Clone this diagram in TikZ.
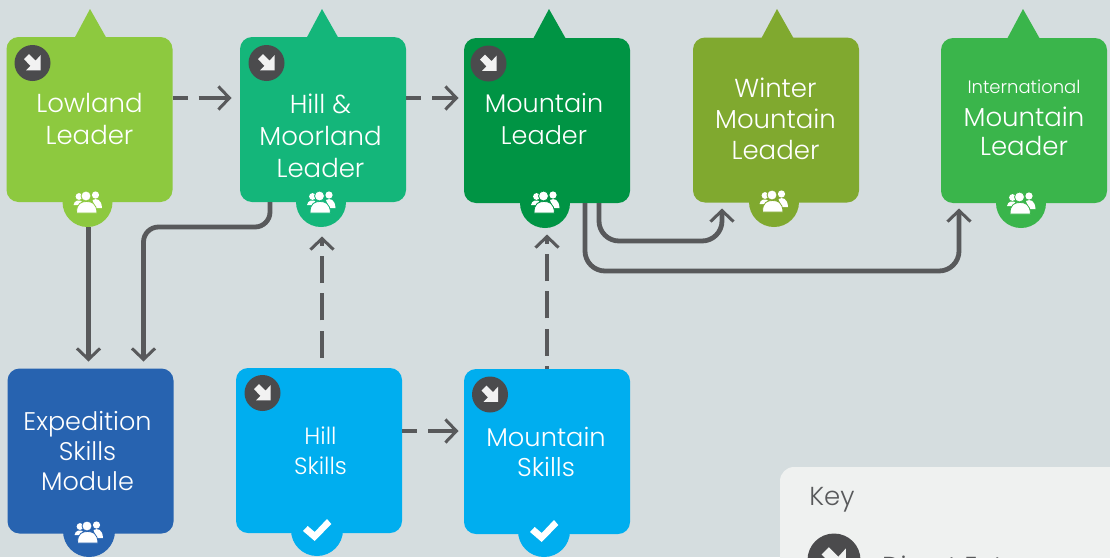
\documentclass[tikz,border=0pt]{standalone}
\usepackage{fontspec}
\setmainfont{Poppins Light}
\usetikzlibrary{arrows.meta,positioning,calc}
\definecolor{bgc}{HTML}{D5DDDF}
\definecolor{lowc}{HTML}{8DC93F}
\definecolor{hillc}{HTML}{14B67A}
\definecolor{mtnc}{HTML}{009444}
\definecolor{winc}{HTML}{80A92F}
\definecolor{intc}{HTML}{3AB54B}
\definecolor{expc}{HTML}{2763B0}
\definecolor{skic}{HTML}{00AEEF}
\definecolor{badc}{HTML}{4B4B4D}
\definecolor{linc}{HTML}{58595B}
\definecolor{keyc}{HTML}{EFF1F0}
\tikzset{
  x=1pt,y=-1pt,
  card/.style={rounded corners=12pt,minimum width=166pt,minimum height=165pt,inner sep=0pt,outer sep=0pt},
  dot/.style={circle,minimum size=50pt,inner sep=0pt,outer sep=0pt},
  badge/.style={circle,fill=badc,minimum size=36pt,inner sep=0pt,outer sep=0pt},
  label/.style={text=white,align=center,inner sep=0pt,font=\fontsize{26}{32}\selectfont},
  link/.style={draw=linc,line width=4.8pt,rounded corners=20pt,-{Straight Barb[length=11pt,width=23pt,line width=3pt]},shorten >=0.5pt},
  dlink/.style={link,line width=4.6pt,dash pattern=on 15pt off 11pt on 60pt off 0pt},
  vlink/.style={link,line width=4.6pt,dash pattern=on 27pt off 10.3pt},
  pics/entry/.style={code={
    \fill[#1] (8.2,7.3)--(-6.5,7.3)--(-2,2.8)--(-8.5,-3.8)--(-3.5,-8.8)--(3,-2.3)--(8.2,-8)--cycle;}},
  pics/people/.style={code={
    \fill[white] (-8.5,-5.5) circle (3.4);
    \fill[white] (8,-7) circle (3.6);
    \fill[white] (-14,3) .. controls (-13,-2) and (-9,-2) .. (-6,-1) -- (-6,3) -- cycle;
    \fill[white] (14.5,6) .. controls (14,-3) and (9,-4) .. (5,-2) -- (8,6) -- cycle;
    \fill[white,draw=#1,line width=0.8pt] (-1.5,-6) circle (5);
    \fill[white,draw=#1,line width=0.8pt] (-11,11) .. controls (-11,1) and (-6,-0.5) .. (-1,-0.5) .. controls (4,-0.5) and (9,1) .. (9.5,11) -- cycle;
  }},
  pics/tick/.style={code={
    \fill[white] (-14,1)--(-9.3,-4)--(-2.3,2)--(10,-11)--(14.3,-6)--(-2.3,11)--cycle;}},
}
\begin{document}
\begin{tikzpicture}
\useasboundingbox (0,0) rectangle (1110,557);
\clip (0,0) rectangle (1110,557);
\fill[bgc] (0,0) rectangle (1110,557);

% key
\fill[keyc,rounded corners=14pt] (780,467) rectangle (1140,640);
\node[text=linc,inner sep=0pt,font=\fontsize{26}{30}\selectfont] (keytitle) at (832,500) {Key};
\node[badge,minimum size=53pt] (keybadge) at (834,560) {};
\pic[scale=1.45] at (834,560) {entry={keyc}};
\node[text=linc,anchor=west,inner sep=0pt,font=\fontsize{26}{30}\selectfont] (keytext) at (882,569) {Direct Entry};

% triangles
\foreach \ax/\bl/\col in {90/74/lowc,322/306/hillc,549/533/mtnc,777/761/winc,1023/1007/intc}
  \fill[\col] (\ax,9)--(\bl+33,39)--(\bl,39)--cycle;

% circles under the cards
\node[dot,fill=lowc] (lowdot) at (87.5,202) {};
\node[dot,fill=hillc] (hilldot) at (321,202) {};
\node[dot,fill=mtnc] (mtndot) at (545,203) {};
\node[dot,fill=winc] (windot) at (774,202) {};
\node[dot,fill=intc] (intdot) at (1021,203) {};
\node[dot,fill=expc,minimum size=52pt] (expdot) at (89,531) {};
\node[dot,fill=skic,minimum size=52pt] (hsdot) at (317,530) {};
\node[dot,fill=skic,minimum size=52pt] (msdot) at (544,531) {};

% cards
\node[card,fill=lowc] (low) at (89.5,119.5) {};
\node[card,fill=hillc] (hill) at (323,119.5) {};
\node[card,fill=mtnc] (mtn) at (547,120.5) {};
\node[card,fill=winc] (win) at (776,120) {};
\node[card,fill=intc] (int) at (1024,120.5) {};
\node[card,fill=expc] (exp) at (90.5,451) {};
\node[card,fill=skic] (hs) at (319,450.5) {};
\node[card,fill=skic] (ms) at (547,451.5) {};

% badges
\node[badge] (lowb) at (32.5,63) {};
\node[badge] (hillb) at (266.5,63) {};
\node[badge] (mtnb) at (488.5,63.5) {};
\node[badge] (hsb) at (262.5,393) {};
\node[badge] (msb) at (490,394.5) {};
\foreach \n in {lowb,hillb,mtnb,hsb,msb} \pic at (\n) {entry={white!95!black}};

% icons
\pic at (87.5,202) {people={lowc}};
\pic at (321,202) {people={hillc}};
\pic at (545,202) {people={mtnc}};
\pic at (773.5,201) {people={winc}};
\pic at (1021,203) {people={intc}};
\pic at (88.5,532) {people={expc}};
\pic at (317,530) {tick};
\pic at (544,531) {tick};

% texts
\node[label] (lowt) at (89.5,118.5) {Lowland\\Leader};
\node[label] (hillt) at (320.5,135.5) {Hill \&\\Moorland\\Leader};
\node[label,font=\fontsize{25.5}{32}\selectfont] (mtnt) at (544,119.5) {Mountain\\Leader};
\node[label,font=\fontsize{26}{31}\selectfont] (wint) at (775.5,119) {Winter\\Mountain\\Leader};
\node[label,font=\fontsize{18}{20}\selectfont] (intt1) at (1024,87) {International};
\node[label,font=\fontsize{26}{29}\selectfont] (intt2) at (1024,131.5) {Mountain\\Leader};
\node[label,font=\fontsize{25.5}{30}\selectfont] (expt) at (87.5,451.5) {Expedition\\Skills\\Module};
\node[label,font=\fontsize{23.5}{30}\selectfont] (hst) at (320.5,451) {Hill\\Skills};
\node[label,font=\fontsize{25.7}{30}\selectfont] (mst) at (546,452) {Mountain\\Skills};

% connectors
\draw[dlink] ([yshift=21.5pt]low.east) -- ([yshift=21.5pt,xshift=-8pt]hill.west);
\draw[dlink] ([yshift=21.5pt]hill.east) -- ([yshift=22.5pt,xshift=-5pt]mtn.west);
\draw[dlink] ([yshift=19.5pt]hs.east) -- ([yshift=20.5pt,xshift=-5pt]ms.west);
\draw[link] ([xshift=1pt]lowdot.south) -- ([yshift=6.5pt,xshift=-2pt]exp.north);
\draw[link,rounded corners=15pt] ([xshift=-53pt]hill.south) -- ++(0,25) -| ([xshift=53pt,yshift=6.5pt]exp.north);
\draw[vlink,dash phase=27pt] ([xshift=3pt]hs.north) -- ([xshift=1pt,yshift=-9pt]hilldot.south);
\draw[vlink,dash phase=24pt] (ms.north) -- ([xshift=2pt,yshift=-6pt]mtndot.south);
\draw[link] ([xshift=52pt]mtn.south) -- ++(0,38) -- ++(123,0) -- ++(0,-33);
\draw[link] ([xshift=38pt]mtn.south) -- ++(0,68) -- ++(374,0) -- ++(0,-63);
\end{tikzpicture}
\end{document}
